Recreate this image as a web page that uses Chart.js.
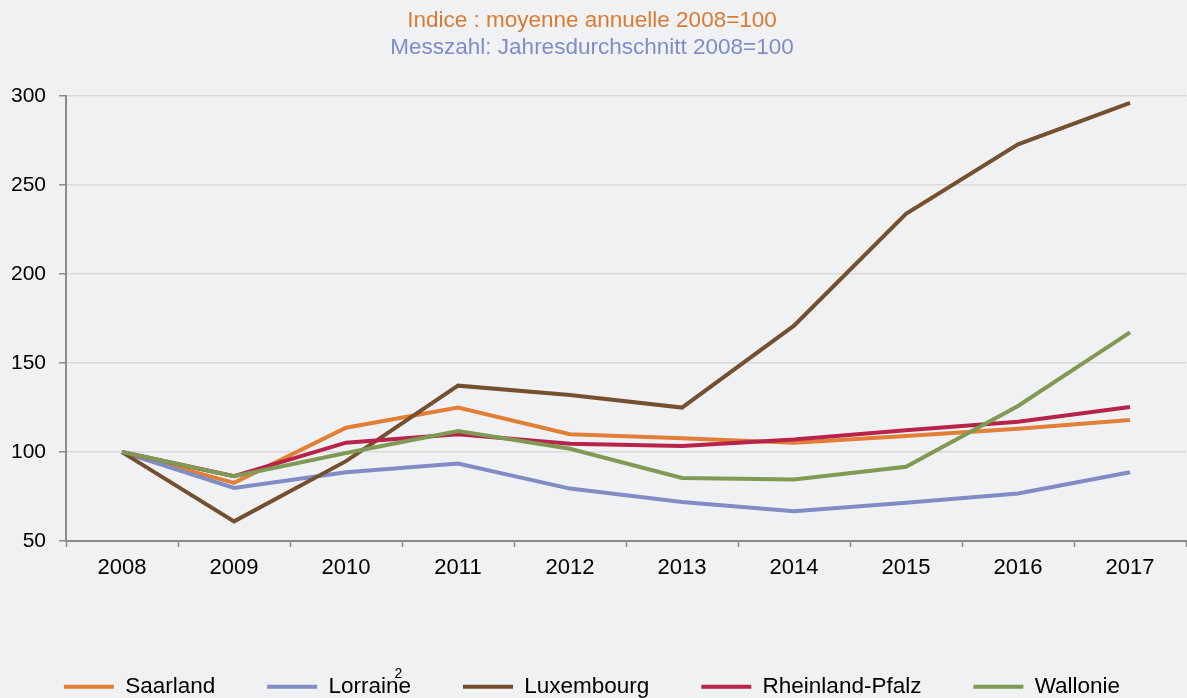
<!DOCTYPE html>
<html>
<head>
<meta charset="utf-8">
<script src="https://cdn.jsdelivr.net/npm/chart.js@4/dist/chart.umd.min.js"></script>
<style>
  html, body { margin: 0; padding: 0; background: #f0f1f3; }
  #wrap { width: 1187px; height: 698px; position: relative; }
</style>
</head>
<body>
<div id="wrap"><canvas id="chart"></canvas></div>
<script>
const years = ["2008", "2009", "2010", "2011", "2012", "2013", "2014", "2015", "2016", "2017"];
const saarland = [100, 82.7, 113.7, 125, 110, 107.7, 105.3, 109, 113.1, 118];
const lorraine = [100, 79.9, 88.7, 93.6, 79.5, 72, 66.8, 71.5, 76.7, 88.7];
const luxembourg = [100, 61.1, 94.9, 137.3, 132, 125, 171, 233.8, 272.9, 296.1];
const rheinlandPfalz = [100, 86.5, 105.3, 110, 104.7, 103.4, 107.1, 112.2, 117, 125.3];
const wallonie = [100, 86.5, 99.5, 111.8, 101.9, 85.5, 84.6, 91.7, 125.9, 167.2];
const yTicks = [50, 100, 150, 200, 250, 300];

const titleFr = "Indice : moyenne annuelle 2008=100";
const titleDe = "Messzahl: Jahresdurchschnitt 2008=100";

const FONT = "'Liberation Sans', Arial, sans-serif";
const LEGEND_SIZE = 22.5;

function series(label, data, color, order) {
  return {
    label,
    data,
    borderColor: color,
    backgroundColor: color,
    borderWidth: 4,
    pointRadius: 0,
    tension: 0,
    order,
  };
}

// small footnote marker sitting over the Lorraine legend entry
const footnotePlugin = {
  id: "footnote",
  afterDraw(chart) {
    const legend = chart.legend;
    if (!legend || !legend.legendHitBoxes[1]) return;
    const box = legend.legendHitBoxes[1];
    const { ctx } = chart;
    const labelOpts = legend.options.labels;
    ctx.save();
    ctx.font = LEGEND_SIZE + "px " + FONT;
    const textX = box.left + labelOpts.pointStyleWidth + LEGEND_SIZE / 2;
    const offset = ctx.measureText("Lorrain").width;
    ctx.font = "14px " + FONT;
    ctx.fillStyle = "#000";
    ctx.textAlign = "center";
    ctx.textBaseline = "middle";
    ctx.fillText("2", textX + offset, box.top - 1);
    ctx.restore();
  },
};

new Chart(document.getElementById("chart"), {
  type: "line",
  data: {
    labels: years,
    datasets: [
      series("Saarland", saarland, "#e07f35", 5),
      series("Lorraine", lorraine, "#7f8dc4", 4),
      series("Luxembourg", luxembourg, "#74502f", 3),
      series("Rheinland-Pfalz", rheinlandPfalz, "#b8234a", 2),
      series("Wallonie", wallonie, "#7e9a53", 1),
    ],
  },
  options: {
    responsive: true,
    maintainAspectRatio: false,
    animation: false,
    layout: { padding: { left: -2, right: 1, top: 0, bottom: -10 } },
    plugins: {
      title: {
        display: true,
        text: titleFr,
        color: "#da7b34",
        font: { family: FONT, size: 22.5, weight: "normal" },
        padding: { top: 7, bottom: 0 },
      },
      subtitle: {
        display: true,
        text: titleDe,
        color: "#7e8dc6",
        font: { family: FONT, size: 22.5, weight: "normal" },
        padding: { top: 0, bottom: 35 },
      },
      legend: {
        position: "bottom",
        labels: {
          color: "#000",
          font: { family: FONT, size: LEGEND_SIZE },
          usePointStyle: true,
          pointStyle: "line",
          pointStyleWidth: 50,
          padding: 52,
          sort: (a, b) => a.datasetIndex - b.datasetIndex,
        },
      },
      tooltip: { enabled: false },
    },
    scales: {
      x: {
        offset: true,
        grid: {
          offset: true,
          drawOnChartArea: false,
          drawTicks: true,
          tickLength: 6,
          tickColor: "#8a8a8a",
          tickWidth: 1.5,
        },
        border: { display: true, color: "#8a8a8a", width: 2 },
        ticks: {
          color: "#000",
          font: { family: FONT, size: 22 },
          padding: 8,
          maxRotation: 0,
        },
        afterFit(scale) {
          scale.height += 34;
        },
      },
      y: {
        min: 50,
        max: 300,
        afterBuildTicks(scale) {
          scale.ticks = yTicks.map((v) => ({ value: v }));
        },
        grid: {
          color: "#d9d9dc",
          lineWidth: 1.5,
          tickLength: 7,
          tickColor: "#8a8a8a",
          tickWidth: 1.5,
        },
        border: { display: true, color: "#8a8a8a", width: 2 },
        ticks: {
          color: "#000",
          font: { family: FONT, size: 21 },
          padding: 13,
        },
      },
    },
  },
  plugins: [footnotePlugin],
});
</script>
</body>
</html>
